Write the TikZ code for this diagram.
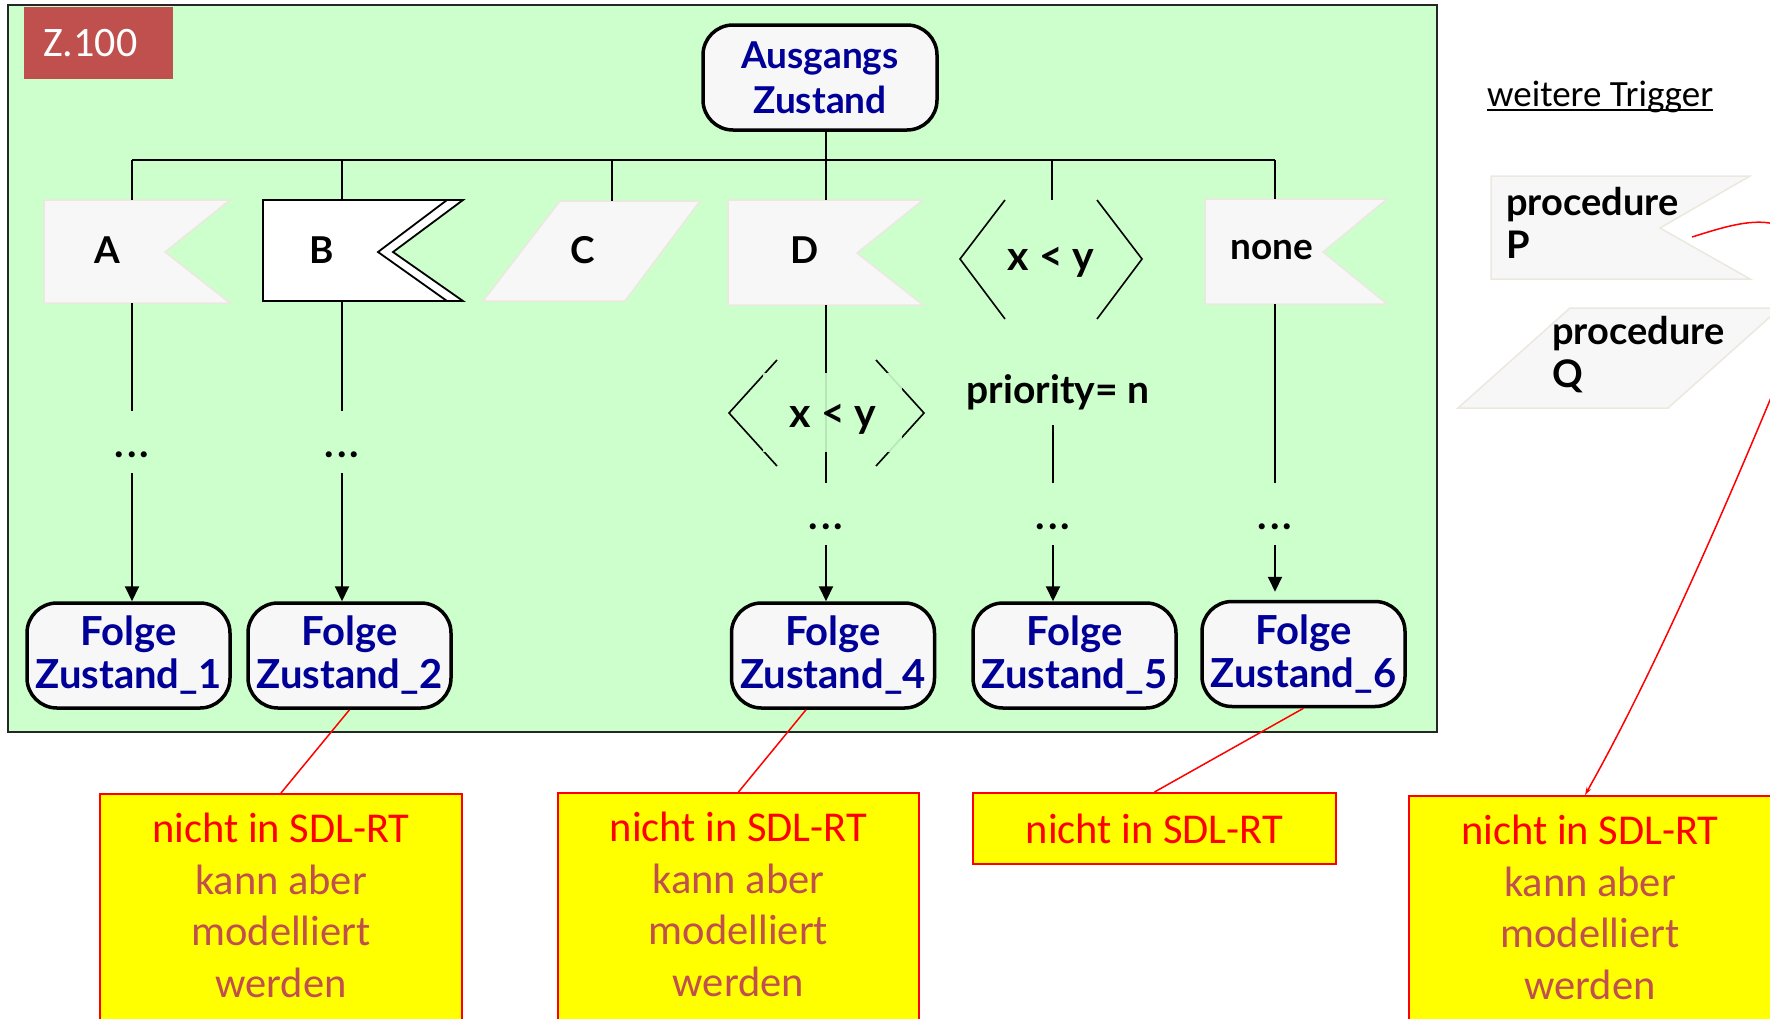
\documentclass[tikz,border=0pt]{standalone}
\usepackage{fontspec}
\setmainfont{Lato}
\newfontfamily\calibri{Carlito}
\usetikzlibrary{arrows.meta}
\definecolor{bggreen}{HTML}{CCFFCC}
\definecolor{zred}{HTML}{C0504D}
\definecolor{shapefill}{HTML}{F7F7F7}
\definecolor{shapeline}{HTML}{ECE8DF}
\definecolor{navy}{HTML}{000099}
\definecolor{brownred}{HTML}{C0504D}
\definecolor{yel}{HTML}{FFFF00}
\begin{document}
\begin{tikzpicture}[x=1pt,y=-1pt,
  conn/.style={draw=black, line width=2pt},
  arr/.style={conn, -{Triangle[length=15pt,width=14pt]}},
  statebox/.style={draw=black, line width=3.5pt, fill=shapefill, rounded corners=30pt,
     inner sep=0pt, align=center, text=navy, font=\bfseries\fontsize{40}{43}\selectfont},
  lbl/.style={inner sep=0pt, font=\bfseries\fontsize{37}{43}\selectfont},
  condlbl/.style={inner sep=0pt, font=\bfseries\fontsize{41}{43}\selectfont},
  dotsnode/.style={inner sep=0pt, font=\bfseries\fontsize{40}{40}\selectfont},
  trig/.style={fill=shapefill, draw=shapeline, line width=1.5pt},
  bracket/.style={draw=black, line width=1.6pt},
  notebox/.style={draw=red, fill=yel, line width=2pt, inner sep=0pt},
  notetext/.style={inner sep=0pt, align=center, text=brownred, font=\calibri\fontsize{42.5}{51.5}\selectfont},
  redline/.style={draw=red, line width=1.5pt}]
\useasboundingbox (0,0) rectangle (1770,1018);
\fill[white] (0,0) rectangle (1770,1018);
\clip (0,0) rectangle (1770,1018);

% frame
\draw[fill=bggreen, draw=black!85, line width=2pt] (8,5) rectangle (1437,732);
\node[fill=zred, text=white, anchor=north west, inner xsep=19pt, inner ysep=0pt,
      text width=111pt, minimum height=72pt, align=left,
      font=\calibri\fontsize{42}{42}\selectfont] (zlab) at (24,7) {Z.100};

% start state
\node[statebox, minimum width=234pt, minimum height=105pt,
      font=\bfseries\fontsize{37}{45}\selectfont] (start) at (820,77.5) {Ausgangs\\Zustand};

% anchor coordinates
\coordinate (bus) at (826,160);
\coordinate (Atop) at (132,200); \coordinate (Abot) at (132,303);
\coordinate (Btop) at (342,200); \coordinate (Bbot) at (342,301);
\coordinate (Ctop) at (612,201);
\coordinate (Dtop) at (826,200); \coordinate (Dbot) at (826,305);
\coordinate (Etop) at (1052,200);
\coordinate (Ntop) at (1275,199); \coordinate (Nbot) at (1275,304);
\coordinate (p5) at (1053,425);

% trigger shapes
\draw[trig] (44,200) -- (230,200) -- (165,252) -- (230,303) -- (44,303) -- cycle;
\node[lbl] (lA) at (107,250) {A};
\draw[fill=white, draw=black, line width=1.8pt] (263,200) -- (463,200) -- (393,252) -- (463,301) -- (263,301) -- cycle;
\draw[draw=black, line width=1.8pt] (447,200) -- (378,252) -- (447,301);
\node[lbl] (lB) at (322,250) {B};
\draw[trig] (560,201) -- (700,201) -- (625,301) -- (483,301) -- cycle;
\node[lbl] (lC) at (583,250) {C};
\draw[trig] (728,200) -- (923,200) -- (857,253) -- (923,305) -- (728,305) -- cycle;
\node[lbl] (lD) at (805,250) {D};
\draw[bracket] (1005,200) -- (960,259) -- (1005,319);
\draw[bracket] (1097,200) -- (1142,259) -- (1097,319);
\node[condlbl] (lE) at (1051,262) {x < y};
\draw[trig] (1205,199) -- (1387,199) -- (1323,252) -- (1387,304) -- (1205,304) -- cycle;
\node[lbl] (lN) at (1272,250) {none};

% bus lines
\draw[conn] (start.south -| bus) -- (Dtop);
\draw[conn] (Atop |- bus) -- (Ntop |- bus);
\draw[conn] (Atop |- bus) -- (Atop);
\draw[conn] (Btop |- bus) -- (Btop);
\draw[conn] (Ctop |- bus) -- (Ctop);
\draw[conn] (Etop |- bus) -- (Etop);
\draw[conn] (Ntop |- bus) -- (Ntop);

% follow states
\node[statebox, minimum width=203pt, minimum height=105pt] (f1) at (128.5,655.5) {Folge\\Zustand\_1};
\node[statebox, minimum width=203pt, minimum height=105pt] (f2) at (349.5,655.5) {Folge\\Zustand\_2};
\node[statebox, minimum width=203pt, minimum height=105pt] (f4) at (833,655.5) {Folge\\Zustand\_4};
\node[statebox, minimum width=203pt, minimum height=105pt] (f5) at (1074.5,655.5) {Folge\\Zustand\_5};
\node[statebox, minimum width=203pt, minimum height=105pt] (f6) at (1303.5,654) {Folge\\Zustand\_6};

% dots
\node[dotsnode] (dA) at (132,455) {.\kern3pt.\kern3pt.};
\node[dotsnode] (dB) at (342,455) {.\kern3pt.\kern3pt.};
\node[dotsnode] (dD) at (826,527) {.\kern3pt.\kern3pt.};
\node[dotsnode] (d5) at (1053,527) {.\kern3pt.\kern3pt.};
\node[dotsnode] (dN) at (1275,527) {.\kern3pt.\kern3pt.};

% column A, B
\draw[conn] (Abot) -- ([yshift=44pt]dA.center);
\draw[arr] ([yshift=-18pt]dA.center) -- (f1.north -| dA);
\draw[conn] (Bbot) -- ([yshift=44pt]dB.center);
\draw[arr] ([yshift=-18pt]dB.center) -- (f2.north -| dB);

% column D with enabling condition
\draw[conn] (Dbot) -- ([yshift=44pt]dD.center);
\draw[bracket] (777,360) -- (729,413) -- (777,466);
\draw[bracket] (876,360) -- (924,413) -- (876,466);
\fill[bggreen, opacity=0.9] (763,373) rectangle (902,452);
\node[condlbl] (lE2) at (833,419) {x < y};
\draw[arr] ([yshift=-18pt]dD.center) -- (f4.north -| dD);

% column 5
\node[lbl, font=\bfseries\fontsize{39}{40}\selectfont] (prio) at (1058,392) {priority= n};
\draw[conn] (p5) -- ([yshift=44pt]d5.center);
\draw[arr] ([yshift=-18pt]d5.center) -- (f5.north -| d5);

% column none
\draw[conn] (Nbot) -- ([yshift=44pt]dN.center);
\draw[arr] ([yshift=-18pt]dN.center) -- ([yshift=8pt]f6.north -| dN);

% further triggers
\node[inner sep=0pt, anchor=base west, font=\calibri\fontsize{37}{40}\selectfont] (wt) at (1487,106) {weitere Trigger};
\draw[line width=1.8pt] ([yshift=-4pt]wt.base west) -- ([yshift=-4pt]wt.base east);
\draw[trig] (1491,176) -- (1750,176) -- (1660,228) -- (1750,279) -- (1491,279) -- cycle;
\node[lbl, align=left, anchor=west, font=\bfseries\fontsize{38}{43}\selectfont] (pP) at (1506,223) {procedure\\P};
\draw[trig] (1570,308) -- (1780,308) -- (1668,408) -- (1458,408) -- cycle;
\node[lbl, align=left, anchor=west, font=\bfseries\fontsize{38}{43}\selectfont] (pQ) at (1552,355) {procedure\\Q};
\coordinate (pstart) at (1692,237);

% notes
\node[notebox, minimum width=362pt, minimum height=260pt, anchor=north] (y1) at (281,793) {};
\node[notetext, anchor=north] (y1t) at ([yshift=-20pt]y1.north) {\textcolor{red}{nicht in SDL-RT}\\kann aber\\modelliert\\werden};
\node[notebox, minimum width=361pt, minimum height=260pt, anchor=north] (y2) at (738.5,792) {};
\node[notetext, anchor=north] (y2t) at ([yshift=-20pt]y2.north) {\textcolor{red}{nicht in SDL-RT}\\kann aber\\modelliert\\werden};
\node[notebox, minimum width=363pt, minimum height=71pt, anchor=north, notetext, text=red] (y3) at (1154.5,792) {nicht in SDL-RT};
\node[notebox, minimum width=362pt, minimum height=260pt, anchor=north] (y4) at (1590,795) {};
\node[notetext, anchor=north] (y4t) at ([yshift=-20pt]y4.north) {\textcolor{red}{nicht in SDL-RT}\\kann aber\\modelliert\\werden};

% red connectors
\draw[redline] (f2.south) -- (y1.north);
\draw[redline] ([xshift=-27pt]f4.south) -- (y2.north);
\draw[redline] (f6.south) -- (y3.north);
\draw[redline, -{Stealth[length=8pt,width=5pt]}] (pstart) .. controls (1740,222) and (1790,205) .. (1810,260)
   .. controls (1815,300) and (1790,355) .. (1770,400)
   .. controls (1720,520) and (1650,680) .. ([xshift=-5pt]y4.north);
\end{tikzpicture}
\end{document}
